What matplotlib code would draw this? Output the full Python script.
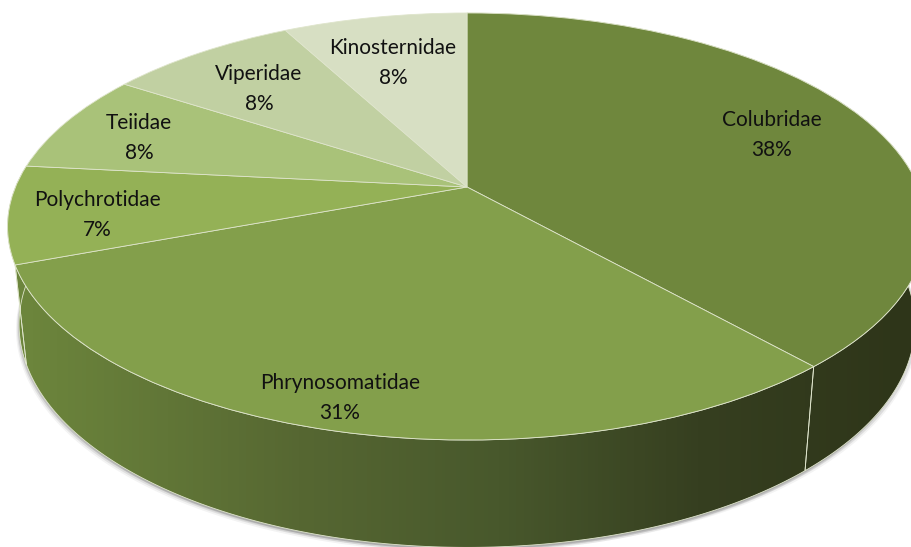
import numpy as np
import matplotlib
matplotlib.use("Agg")
import matplotlib.pyplot as plt
from matplotlib.colors import LinearSegmentedColormap
from matplotlib.patches import Polygon
from matplotlib.transforms import Transform

names = ["Colubridae", "Phrynosomatidae", "Polychrotidae", "Teiidae", "Viperidae", "Kinosternidae"]
shares = [38.5, 30.75, 7.4, 7.6, 8.0, 7.75]
pct_labels = ["38%", "31%", "7%", "8%", "8%", "8%"]
colors = ["#6f873d", "#839f4b", "#94b156", "#a9c279", "#c1d0a2", "#d7dfc3"]
label_x = [772, 340, 97, 139, 259, 393]
label_y = [135, 398, 215, 138, 89, 63]

side_x = [0, 30, 300, 500, 700, 912]
side_cols = ["#6c853c", "#6c853c", "#566732", "#48582c", "#363f20", "#2e3519"]

# pie centre in pixels + perspective of the tilted disc
cx, cy = 467, 187
K, A, c = 451.5, 206.2, 0.185
edge = "#dfe5cc"


class Tilt(Transform):
    input_dims = 2
    output_dims = 2
    is_affine = False

    def transform_non_affine(self, values):
        values = np.asarray(values)
        u, v = values[:, 0], values[:, 1]
        w = 1 + c * v
        return np.column_stack([cx + K * u / w, cy - A * v / w])


def top_arc(f0, f1, n=200):
    t = 2 * np.pi * np.linspace(f0, f1, n)
    return Tilt().transform_non_affine(np.column_stack([np.sin(t), np.cos(t)]))


def bottom_arc(f0, f1, n=200):
    p = top_arc(f0, f1, n)
    x = cx + 0.975 * (p[:, 0] - cx)
    y = cy + 1.045 * (p[:, 1] - cy) + 96
    return np.column_stack([x, y])


fig = plt.figure(figsize=(9.12, 5.47), dpi=100)
ax = fig.add_axes([0, 0, 1, 1])

# soft shadow under the lower rim
outline = bottom_arc(0, 1, 400)
for off, a in [((-3, 5), 0.07), ((-2, 3.5), 0.12), ((-1, 2), 0.2)]:
    ax.add_patch(Polygon(outline + off, closed=True, fc="#555555", ec="none", alpha=a, zorder=1))
for off, a in [((3, 4), 0.07), ((2, 2.5), 0.14)]:
    ax.add_patch(Polygon(outline + off, closed=True, fc="#555555", ec="none", alpha=a, zorder=1))

# rim pieces, gradient runs left to right across the picture
fr = np.cumsum([0] + shares) / sum(shares)
cmap = LinearSegmentedColormap.from_list("rim", [(x / 912, col) for x, col in zip(side_x, side_cols)])
grad = np.linspace(0, 1, 912)[None, :]
for i in [0, 1, 2]:
    poly = np.vstack([top_arc(fr[i], fr[i + 1]), bottom_arc(fr[i], fr[i + 1])[::-1]])
    patch = Polygon(poly, closed=True, fc="none", ec=edge, lw=0.6, zorder=3)
    ax.add_patch(patch)
    im = ax.imshow(grad, cmap=cmap, extent=(0, 912, 547, 0), aspect="auto", zorder=2)
    im.set_clip_path(patch)

# top face
wedges, _ = ax.pie(shares, colors=colors, startangle=90, counterclock=False, radius=1,
                   wedgeprops={"edgecolor": edge, "linewidth": 0.6})
tilt = Tilt()
for w in wedges:
    w.set_transform(tilt + ax.transData)
    w.set_zorder(4)

for name, pct, x, y in zip(names, pct_labels, label_x, label_y):
    ax.text(x, y, name + "\n" + pct, ha="center", va="center", fontsize=15,
            family="Lato", color="#111111", linespacing=1.6, zorder=5)

ax.set_aspect("auto")
ax.set_xlim(0, 912)
ax.set_ylim(547, 0)
ax.axis("off")
fig.savefig("out.png", dpi=100)
